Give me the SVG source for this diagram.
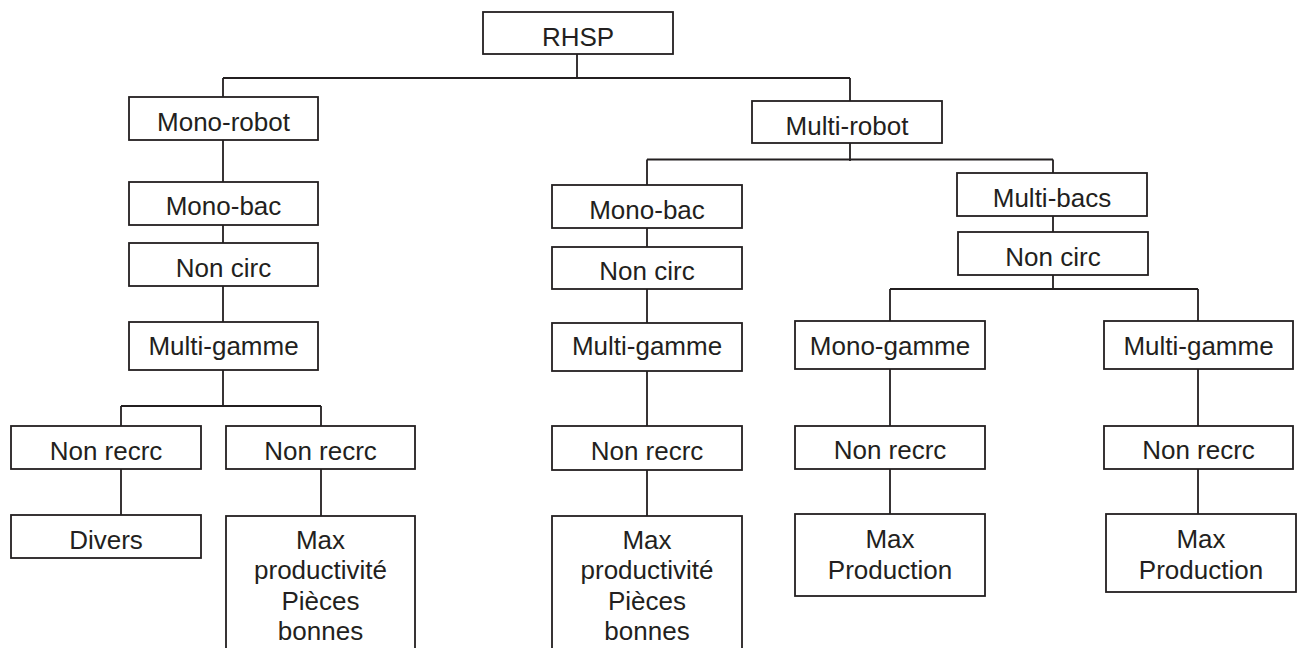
<svg xmlns="http://www.w3.org/2000/svg" width="1305" height="648" viewBox="0 0 1305 648">
<style>
.box{fill:#fff;stroke:#231f20;stroke-width:1.8}
.ln{fill:none;stroke:#231f20;stroke-width:1.8}
text{font-family:"Liberation Sans",Arial,sans-serif;font-size:26px;fill:#231f20;text-anchor:middle}
</style>
<rect width="1305" height="648" fill="#fff"/>
<g id="connectors" class="ln">
<path d="M577 54V78M223 78H850M223 78V97M850 78V101"/>
<path d="M223 140V182M223 225V243M223 286V322M223 370V406M121 406H321M121 406V426M321 406V426M121 469V515M321 469V516"/>
<path d="M850 143V161M647 159.5H1053M647 159.5V185M1053 159.5V173"/>
<path d="M647 228V247M647 289V323M647 371V426M647 470V516"/>
<path d="M1053 216V232M1053 275V289M890 289H1198M890 289V321M1198 289V321"/>
<path d="M890 369V426M890 469V514M1198 369V426M1198 469V514"/>
</g>
<g id="rhsp"><rect class="box" x="483" y="12" width="190" height="42"/><text x="578" y="45.5">RHSP</text></g>
<g id="mono-robot"><rect class="box" x="129" y="97" width="189" height="43"/><text x="223.5" y="131">Mono-robot</text></g>
<g id="multi-robot"><rect class="box" x="752" y="101" width="190" height="42"/><text x="847" y="135">Multi-robot</text></g>
<g id="l-mono-bac"><rect class="box" x="129" y="182" width="189" height="43"/><text x="223.5" y="215">Mono-bac</text></g>
<g id="l-non-circ"><rect class="box" x="129" y="243" width="189" height="43"/><text x="223.5" y="276.5">Non circ</text></g>
<g id="l-multi-gamme"><rect class="box" x="129" y="322" width="189" height="48"/><text x="223.5" y="354.5">Multi-gamme</text></g>
<g id="l-non-recrc-1"><rect class="box" x="11" y="426" width="190" height="43"/><text x="106" y="460">Non recrc</text></g>
<g id="l-non-recrc-2"><rect class="box" x="226" y="426" width="189" height="43"/><text x="320.5" y="460">Non recrc</text></g>
<g id="divers"><rect class="box" x="11" y="515" width="190" height="43"/><text x="106" y="548.5">Divers</text></g>
<g id="l-max"><rect class="box" x="226" y="516" width="189" height="150"/><text x="320.5" y="548.5">Max</text><text x="320.5" y="579">productivité</text><text x="320.5" y="609.5">Pièces</text><text x="320.5" y="640">bonnes</text></g>
<g id="m-mono-bac"><rect class="box" x="552" y="185" width="190" height="43"/><text x="647" y="219">Mono-bac</text></g>
<g id="m-non-circ"><rect class="box" x="552" y="247" width="190" height="42"/><text x="647" y="279.5">Non circ</text></g>
<g id="m-multi-gamme"><rect class="box" x="552" y="323" width="190" height="48"/><text x="647" y="355">Multi-gamme</text></g>
<g id="m-non-recrc"><rect class="box" x="552" y="426" width="190" height="44"/><text x="647" y="460">Non recrc</text></g>
<g id="m-max"><rect class="box" x="552" y="516" width="190" height="150"/><text x="647" y="548.5">Max</text><text x="647" y="579">productivité</text><text x="647" y="609.5">Pièces</text><text x="647" y="640">bonnes</text></g>
<g id="multi-bacs"><rect class="box" x="957" y="173" width="190" height="43"/><text x="1052" y="206.5">Multi-bacs</text></g>
<g id="r-non-circ"><rect class="box" x="958" y="232" width="190" height="43"/><text x="1053" y="265.5">Non circ</text></g>
<g id="mono-gamme"><rect class="box" x="795" y="321" width="190" height="48"/><text x="890" y="355">Mono-gamme</text></g>
<g id="r-multi-gamme"><rect class="box" x="1104" y="321" width="189" height="48"/><text x="1198.5" y="355">Multi-gamme</text></g>
<g id="r-non-recrc-1"><rect class="box" x="795" y="426" width="190" height="43"/><text x="890" y="459">Non recrc</text></g>
<g id="r-non-recrc-2"><rect class="box" x="1104" y="426" width="189" height="43"/><text x="1198.5" y="459">Non recrc</text></g>
<g id="r-max-1"><rect class="box" x="795" y="514" width="190" height="82"/><text x="890" y="547.5">Max</text><text x="890" y="578.5">Production</text></g>
<g id="r-max-2"><rect class="box" x="1106" y="514" width="190" height="78"/><text x="1201" y="547.5">Max</text><text x="1201" y="578.5">Production</text></g>
</svg>
